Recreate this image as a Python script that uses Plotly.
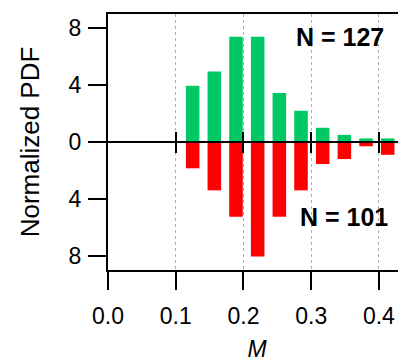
import plotly.graph_objects as go

# Data
bin_centers = [0.125, 0.157, 0.189, 0.221, 0.253, 0.285, 0.317, 0.349, 0.381, 0.413]
pdf_upper = [3.95, 4.95, 7.4, 7.4, 3.45, 2.2, 1.0, 0.5, 0.25, 0.25]      # N = 127 (green, up)
pdf_lower = [1.85, 3.4, 5.25, 8.05, 5.25, 3.4, 1.55, 1.2, 0.3, 0.9]      # N = 101 (red, down)
n_upper = 127
n_lower = 101
x_ticks = [0.0, 0.1, 0.2, 0.3, 0.4]
x_ticklabels = ["0.0", "0.1", "0.2", "0.3", "0.4"]
y_ticks = [-8, -4, 0, 4, 8]
y_ticklabels = ["8", "4", "0", "4", "8"]

FONT = "Liberation Sans, Arial, sans-serif"
GREEN = "#00C864"
RED = "#FF0000"

fig = go.Figure()
fig.add_trace(go.Bar(x=bin_centers, y=pdf_upper, width=0.02, marker=dict(color=GREEN, line=dict(width=0)),
                     showlegend=False))
fig.add_trace(go.Bar(x=bin_centers, y=[-v for v in pdf_lower], width=0.02, marker=dict(color=RED, line=dict(width=0)),
                     showlegend=False))
# invisible traces so the zero-line axes render
fig.add_trace(go.Scatter(x=[0.2], y=[0], xaxis="x2", mode="markers", marker=dict(opacity=0), showlegend=False, hoverinfo="skip"))
fig.add_trace(go.Scatter(x=[0.2], y=[0], xaxis="x3", mode="markers", marker=dict(opacity=0), showlegend=False, hoverinfo="skip"))

fig.update_layout(
    width=398, height=354,
    margin=dict(l=100, r=0, t=6, b=92),
    paper_bgcolor="white", plot_bgcolor="white",
    barmode="overlay",
    font=dict(family=FONT, color="black", size=23),
    xaxis=dict(
        range=[0, 0.44], tickvals=x_ticks, ticktext=x_ticklabels,
        ticks="outside", ticklen=18, tickwidth=2, tickcolor="black",
        showline=True, linewidth=2, linecolor="black", mirror=True,
        showgrid=True, gridcolor="#b0b0b0", gridwidth=1, griddash="dot",
        zeroline=False, tickfont=dict(size=23), ticklabelstandoff=6,
        title=dict(text="<i>M</i>", font=dict(size=23), standoff=17),
        automargin=False,
    ),
    xaxis2=dict(
        overlaying="x", matches="x", anchor="free", position=0.5,
        tickvals=[0.1, 0.2, 0.3, 0.4], ticks="outside", ticklen=10, tickwidth=2, tickcolor="black",
        showline=True, linewidth=2, linecolor="black", showticklabels=False, showgrid=False, zeroline=False,
    ),
    xaxis3=dict(
        overlaying="x", matches="x", anchor="free", position=0.5,
        tickvals=[0.1, 0.2, 0.3, 0.4], ticks="inside", ticklen=10, tickwidth=2, tickcolor="black",
        showline=False, showticklabels=False, showgrid=False, zeroline=False,
    ),
    yaxis=dict(
        range=[-9, 9], tickvals=y_ticks, ticktext=y_ticklabels,
        ticks="outside", ticklen=18, tickwidth=2, tickcolor="black",
        showline=True, linewidth=2, linecolor="black",
        showgrid=False, zeroline=False, tickfont=dict(size=23), ticklabelstandoff=2,
        title=dict(text="Normalized PDF", font=dict(size=26), standoff=22),
        automargin=False,
    ),
    annotations=[
        dict(text=f"<b>N = {n_upper}</b>", x=0.343, y=7.35, xref="x", yref="y", showarrow=False,
             font=dict(size=25, family=FONT)),
        dict(text=f"<b>N = {n_lower}</b>", x=0.349, y=-5.3, xref="x", yref="y", showarrow=False,
             font=dict(size=25, family=FONT)),
    ],
)

fig.write_html("out.html")
